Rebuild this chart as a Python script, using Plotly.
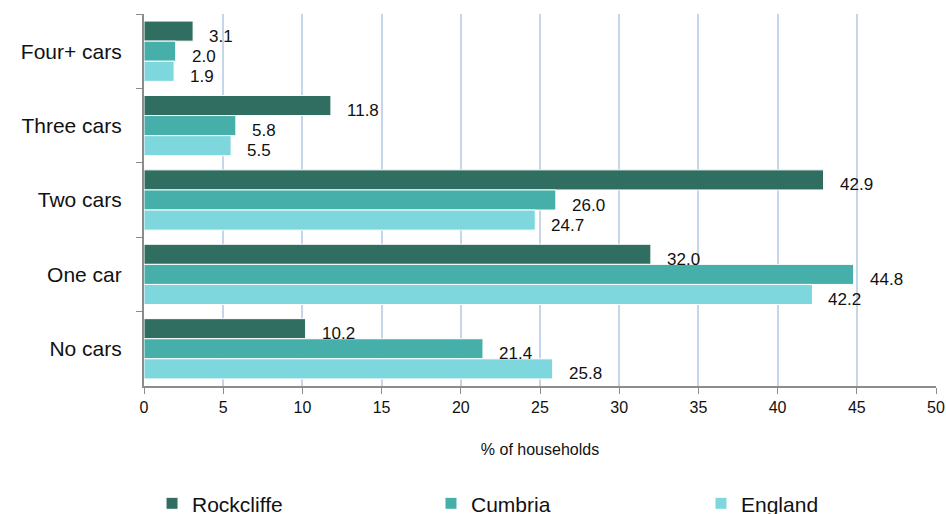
import plotly.graph_objects as go

categories = ["Four+ cars", "Three cars", "Two cars", "One car", "No cars"]
rockcliffe = [3.1, 11.8, 42.9, 32.0, 10.2]
cumbria = [2.0, 5.8, 26.0, 44.8, 21.4]
england = [1.9, 5.5, 24.7, 42.2, 25.8]
series_names = ["Rockcliffe", "Cumbria", "England"]
series_colors = ["#316E62", "#47AFAA", "#7ED7DD"]
x_ticks = [0, 5, 10, 15, 20, 25, 30, 35, 40, 45, 50]

FONT = "Liberation Sans, Arial, sans-serif"
legend_ids = ["legend", "legend2", "legend3"]
legend_x = [0.1607, 0.4556, 0.741]

fig = go.Figure()
for name, vals, col, lid in zip(series_names, [rockcliffe, cumbria, england], series_colors, legend_ids):
    fig.add_trace(go.Bar(
        y=categories, x=vals, name=name, orientation="h",
        marker=dict(color=col, line=dict(color="white", width=1)),
        textposition="none", legend=lid,
        hoverinfo="x+y",
    ))

# value labels as annotations offset to the right of each bar
offsets = [-0.27, 0.0, 0.27]
for k, vals in enumerate([rockcliffe, cumbria, england]):
    for i, v in enumerate(vals):
        fig.add_annotation(
            x=v, y=i + offsets[k], xref="x", yref="y",
            text=f"{v:.1f}", showarrow=False, xanchor="left",
            xshift=14, yshift=-5,
            font=dict(family=FONT, size=17, color="#111111"),
        )

def legend_cfg(x):
    return dict(
        orientation="h", xref="container", yref="container",
        x=x, y=0.06, xanchor="left", yanchor="top",
        font=dict(family=FONT, size=21, color="#111111"),
        itemwidth=30, bgcolor="rgba(0,0,0,0)",
    )

fig.update_layout(
    width=946, height=514,
    margin=dict(l=144, r=10, t=14, b=128, autoexpand=False),
    paper_bgcolor="white", plot_bgcolor="white",
    barmode="group", bargap=0.19, bargroupgap=0.0,
    font=dict(family=FONT, color="#111111"),
    showlegend=True,
    legend=legend_cfg(legend_x[0]),
    legend2=legend_cfg(legend_x[1]),
    legend3=legend_cfg(legend_x[2]),
    xaxis=dict(
        range=[0, 50], tickvals=x_ticks, ticktext=[str(t) for t in x_ticks],
        automargin=False,
        showgrid=True, gridcolor="#C5D5EA", gridwidth=1.5, zeroline=False,
        showline=True, linecolor="#8C8C8C", linewidth=2,
        ticks="outside", ticklen=6, tickcolor="#8C8C8C", tickwidth=1,
        tickfont=dict(family=FONT, size=16, color="#111111"),
        title=dict(text="% of households", standoff=29,
                   font=dict(family=FONT, size=16, color="#111111")),
    ),
    yaxis=dict(
        categoryorder="array", categoryarray=categories,
        autorange="reversed", automargin=False,
        showgrid=False, zeroline=False,
        showline=True, linecolor="#8C8C8C", linewidth=2,
        ticks="outside", tickson="boundaries", ticklen=6,
        tickcolor="#8C8C8C", tickwidth=1,
        tickfont=dict(family=FONT, size=21, color="#111111"),
        ticklabelstandoff=16,
    ),
)

fig.write_html(
    "out.html",
    config={"displayModeBar": False},
    post_script="document.body.style.margin='0';document.body.style.padding='0';",
)
